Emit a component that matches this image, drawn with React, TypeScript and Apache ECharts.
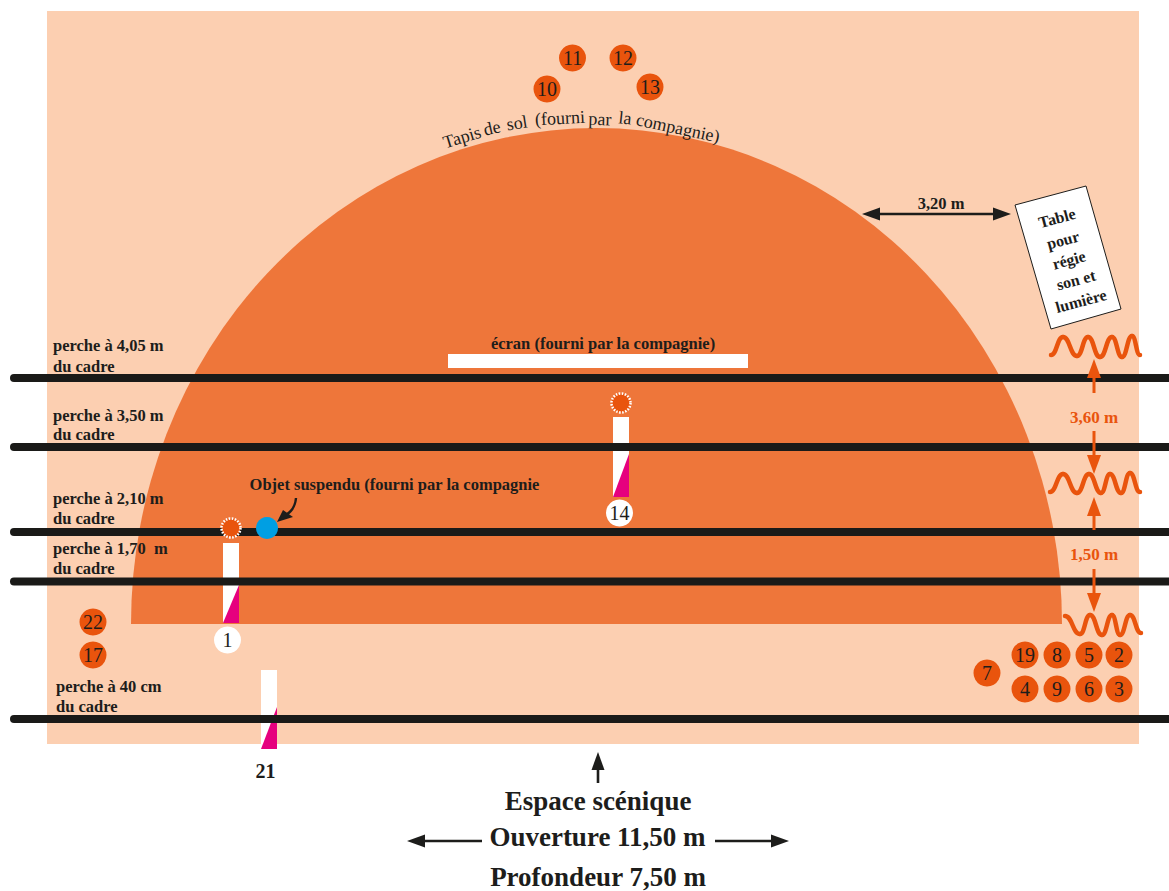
import React, { useEffect, useRef } from "react";
import * as echarts from "echarts";

const W = 1169;
const H = 891;
const INK = "#1d1d1b";
const ORANGE = "#e9540d";
const FONT = "'Liberation Serif', serif";

// [x1, y1, x2, y2]
const stage = [47, 11, 1139, 744];
const screenBar = [448, 354, 748, 368];
// carpet: left, right, base, top
const carpet = [131, 1062, 624, 128];
const perches = [378, 447, 532, 581.5, 719];

const orangeFixtures: [string, number, number][] = [
  ["11", 572.5, 58], ["12", 623, 58], ["10", 547, 89], ["13", 650, 87],
  ["22", 93, 622], ["17", 93, 655], ["7", 987, 673],
  ["19", 1025, 655], ["8", 1057, 655], ["5", 1089, 655], ["2", 1119, 655],
  ["4", 1025, 689], ["9", 1057, 689], ["6", 1089, 689], ["3", 1119, 689],
];
const whiteFixtures: [string, number, number][] = [["1", 227.5, 640], ["14", 619.5, 513]];
const suns: [number, number][] = [[231, 528], [621, 403]];
const blueObject: [number, number][] = [[267, 528]];
// left, top, right, triangle top, bottom
const stands = [
  [223, 543, 239, 585, 623],
  [613, 417, 629, 454, 497],
  [261, 670, 277, 707, 749],
];
const tableCorners = [[1015, 205], [1086, 186], [1121, 309], [1051, 329]];

const wave1 = [[1051, 355], [1063, 337], [1077, 356], [1088, 337], [1100, 357], [1112, 337], [1122, 357], [1132, 336], [1140, 355]];
const wave2 = [[1050, 492], [1063, 474], [1077, 493], [1089, 474], [1101, 493], [1110, 474], [1121, 493], [1130, 473], [1140, 492]];
const wave3 = [[1065, 616], [1080, 634], [1090, 615], [1102, 635], [1112, 615], [1120, 635], [1130, 615], [1141, 633]];

// tail x, tail y, tip x, tip y
const orangeArrows = [
  [1094, 393, 1094, 359],
  [1094, 431, 1094, 474],
  [1094, 530, 1094, 497],
  [1094, 569, 1094, 612],
];
const blackArrows = [
  [941, 214, 1011, 214],
  [941, 214, 862, 214],
  [598, 783, 598, 752],
  [482, 841, 407, 841],
  [715, 841, 789, 841],
];
const hookCurve = [296, 498, 295, 510, 288, 514, 280, 519];
const hookHead = [[277, 522], [283, 510], [293, 517]];

// text, x, y
const perchLabels: [string, number, number][] = [
  ["perche à 4,05 m", 53, 345], ["du cadre", 53, 366],
  ["perche à 3,50 m", 53, 415], ["du cadre", 53, 434],
  ["perche à 2,10 m", 53, 498], ["du cadre", 53, 518],
  ["perche à 1,70  m", 53, 548], ["du cadre", 53, 568],
  ["perche à 40 cm", 56, 686], ["du cadre", 56, 706],
];
const noteLabels: [string, number, number][] = [
  ["écran (fourni par la compagnie)", 603, 343],
  ["Objet suspendu (fourni par la compagnie", 394.5, 484],
  ["3,20 m", 941, 203],
];
const measureLabels: [string, number, number][] = [["3,60 m", 1094, 417], ["1,50 m", 1094, 554]];
const standLabel: [string, number, number][] = [["21", 265.5, 771]];
const footerLabels: [string, number, number][] = [
  ["Espace scénique", 598, 801], ["Ouverture 11,50 m", 597.5, 837], ["Profondeur 7,50 m", 598, 877],
];
// text, x, y, rotation in degrees
const tableLabels: [string, number, number, number][] = [
  ["Table", 1057, 218, 15], ["pour", 1063, 240, 15], ["régie", 1069, 260, 15],
  ["son et", 1076, 280, 15], ["lumière", 1081, 301, 15],
];
const carpetLabels: [string, number, number, number][] = [
  ["Tapis", 462, 137, 17], ["de", 492, 128, 13], ["sol", 517, 123, 9],
  ["(fourni", 560, 118, 3], ["par", 600, 119, -2], ["la", 625, 118, -6], ["compagnie)", 678, 128, -12],
];

function custom(name: string, rows: any[], z: number, draw: (row: any, api: any) => any) {
  return {
    type: "custom",
    name,
    z,
    silent: true,
    clip: false,
    coordinateSystem: "cartesian2d",
    data: rows.map((_, i) => [i, 0]),
    renderItem: (params: any, api: any) => draw(rows[params.dataIndex], api),
  };
}

function textSeries(name: string, rows: any[], z: number, size: number, weight: string, color: string, align = "center") {
  return custom(name, rows, z, (r, api) => {
    const [x, y] = api.coord([r[1], r[2]]);
    return {
      type: "text",
      x,
      y,
      rotation: ((r[3] || 0) * Math.PI) / 180,
      style: { text: r[0], fill: color, fontFamily: FONT, fontSize: size, fontWeight: weight, textAlign: align, textVerticalAlign: "middle" },
    };
  });
}

function arrowSeries(name: string, rows: number[][], z: number, color: string, head: number, half: number, width: number) {
  return custom(name, rows, z, (r, api) => {
    const a = api.coord([r[0], r[1]]);
    const b = api.coord([r[2], r[3]]);
    const d = Math.hypot(b[0] - a[0], b[1] - a[1]);
    const ux = (b[0] - a[0]) / d;
    const uy = (b[1] - a[1]) / d;
    const bx = b[0] - ux * head;
    const by = b[1] - uy * head;
    return {
      type: "group",
      children: [
        { type: "line", shape: { x1: a[0], y1: a[1], x2: bx, y2: by }, style: { stroke: color, lineWidth: width } },
        { type: "polygon", shape: { points: [b, [bx - uy * half, by + ux * half], [bx + uy * half, by - ux * half]] }, style: { fill: color } },
      ],
    };
  });
}

function waveSeries(name: string, rows: number[][][], z: number) {
  return custom(name, rows, z, (pts, api) => {
    const p = pts.map((q: number[]) => api.coord(q));
    const children = [];
    for (let i = 0; i < p.length - 1; i++) {
      const mx = (p[i][0] + p[i + 1][0]) / 2;
      children.push({
        type: "bezierCurve",
        shape: { x1: p[i][0], y1: p[i][1], cpx1: mx, cpy1: p[i][1], cpx2: mx, cpy2: p[i + 1][1], x2: p[i + 1][0], y2: p[i + 1][1] },
        style: { stroke: ORANGE, lineWidth: 4.5, lineCap: "round", fill: "none" },
      });
    }
    return { type: "group", children };
  });
}

function rectSeries(name: string, rows: number[][], z: number, fill: string) {
  return custom(name, rows, z, (r, api) => {
    const a = api.coord([r[0], r[1]]);
    const b = api.coord([r[2], r[3]]);
    return { type: "rect", shape: { x: a[0], y: a[1], width: b[0] - a[0], height: b[1] - a[1] }, style: { fill } };
  });
}

function fixtureSeries(name: string, rows: [string, number, number][], z: number, fill: string, size: number) {
  return {
    type: "scatter",
    name,
    z,
    silent: true,
    symbol: "circle",
    symbolSize: size,
    itemStyle: { color: fill, opacity: 1 },
    label: {
      show: true,
      position: "inside",
      formatter: (p: any) => p.data[2],
      color: INK,
      fontFamily: FONT,
      fontSize: 20,
      fontWeight: "normal",
    },
    data: rows.map((r) => [r[1], r[2], r[0]]),
  };
}

function buildOption() {
  return {
    animation: false,
    backgroundColor: "#ffffff",
    grid: { left: 0, right: 0, top: 0, bottom: 0, containLabel: false },
    xAxis: { type: "value", min: 0, max: W, show: false },
    yAxis: { type: "value", min: 0, max: H, inverse: true, show: false },
    tooltip: { show: false },
    series: [
      rectSeries("Espace scénique", [stage], 1, "#fccfb1"),
      custom("Tapis de sol", [carpet], 2, (r, api) => {
        const a = api.coord([r[0], r[2]]);
        const b = api.coord([r[1], r[2]]);
        const t = api.coord([r[0], r[3]]);
        const rx = (b[0] - a[0]) / 2;
        const ry = a[1] - t[1];
        return {
          type: "path",
          shape: {
            pathData: `M${a[0]} ${a[1]} A${rx} ${ry} 0 0 1 ${b[0]} ${b[1]} Z`,
            x: a[0],
            y: t[1],
            width: b[0] - a[0],
            height: ry,
            layout: "cover",
          },
          style: { fill: "#ee763a" },
        };
      }),
      rectSeries("écran", [screenBar], 3, "#ffffff"),
      rectSeries("Pieds", stands.map((s) => [s[0], s[1], s[2], s[4]]), 3, "#ffffff"),
      custom("Pieds filtre", stands, 4, (s, api) => ({
        type: "polygon",
        shape: { points: [api.coord([s[2], s[3]]), api.coord([s[2], s[4]]), api.coord([s[0], s[4]])] },
        style: { fill: "#e6007e" },
      })),
      custom("Perches", perches, 5, (y, api) => {
        const a = api.coord([14, y]);
        const b = api.coord([W + 10, y]);
        return { type: "line", shape: { x1: a[0], y1: a[1], x2: b[0], y2: b[1] }, style: { stroke: "#1a1a18", lineWidth: 8, lineCap: "round" } };
      }),
      custom("Table", [tableCorners], 5, (pts, api) => ({
        type: "polygon",
        shape: { points: pts.map((p: number[]) => api.coord(p)) },
        style: { fill: "#ffffff", stroke: INK, lineWidth: 1 },
      })),
      waveSeries("Ondes", [wave1, wave2, wave3], 6),
      arrowSeries("Flèches oranges", orangeArrows, 7, ORANGE, 19, 7, 3),
      arrowSeries("Flèches noires", blackArrows, 7, INK, 18, 6.5, 2.6),
      custom("Crochet", [hookCurve], 7, (c, api) => {
        const p0 = api.coord([c[0], c[1]]);
        const p1 = api.coord([c[2], c[3]]);
        const p2 = api.coord([c[4], c[5]]);
        const p3 = api.coord([c[6], c[7]]);
        return {
          type: "group",
          children: [
            {
              type: "bezierCurve",
              shape: { x1: p0[0], y1: p0[1], cpx1: p1[0], cpy1: p1[1], cpx2: p2[0], cpy2: p2[1], x2: p3[0], y2: p3[1] },
              style: { stroke: INK, lineWidth: 2.4, fill: "none" },
            },
            { type: "polygon", shape: { points: hookHead.map((q) => api.coord(q)) }, style: { fill: INK } },
          ],
        };
      }),
      {
        type: "scatter",
        name: "Projecteurs",
        z: 8,
        silent: true,
        symbol: "circle",
        symbolSize: 19,
        itemStyle: { color: ORANGE, opacity: 1, borderColor: "#ffffff", borderWidth: 2.5, borderType: [1.6, 1.4] },
        data: suns,
      },
      {
        type: "scatter",
        name: "Objet suspendu",
        z: 8,
        silent: true,
        symbol: "circle",
        symbolSize: 22,
        itemStyle: { color: "#009fe3", opacity: 1 },
        data: blueObject,
      },
      fixtureSeries("Projecteurs oranges", orangeFixtures, 8, ORANGE, 27),
      fixtureSeries("Projecteurs blancs", whiteFixtures, 8, "#ffffff", 27),
      textSeries("Perches texte", perchLabels, 9, 16.5, "bold", INK, "left"),
      textSeries("Notes", noteLabels, 9, 16.5, "bold", INK),
      textSeries("Mesures", measureLabels, 9, 17, "bold", ORANGE),
      textSeries("Table texte", tableLabels, 9, 16, "bold", INK),
      textSeries("Tapis texte", carpetLabels, 9, 18, "normal", INK),
      textSeries("Pied 21", standLabel, 9, 20, "bold", INK),
      textSeries("Pied de page", footerLabels, 9, 27, "bold", INK),
    ],
  };
}

export default function App() {
  const ref = useRef<HTMLDivElement>(null);
  useEffect(() => {
    const chart = echarts.init(ref.current!, null, { renderer: "svg" });
    chart.setOption(buildOption() as any);
    return () => chart.dispose();
  }, []);
  return <div ref={ref} style={{ position: "absolute", left: 0, top: 0, width: W, height: H, overflow: "hidden" }} />;
}
